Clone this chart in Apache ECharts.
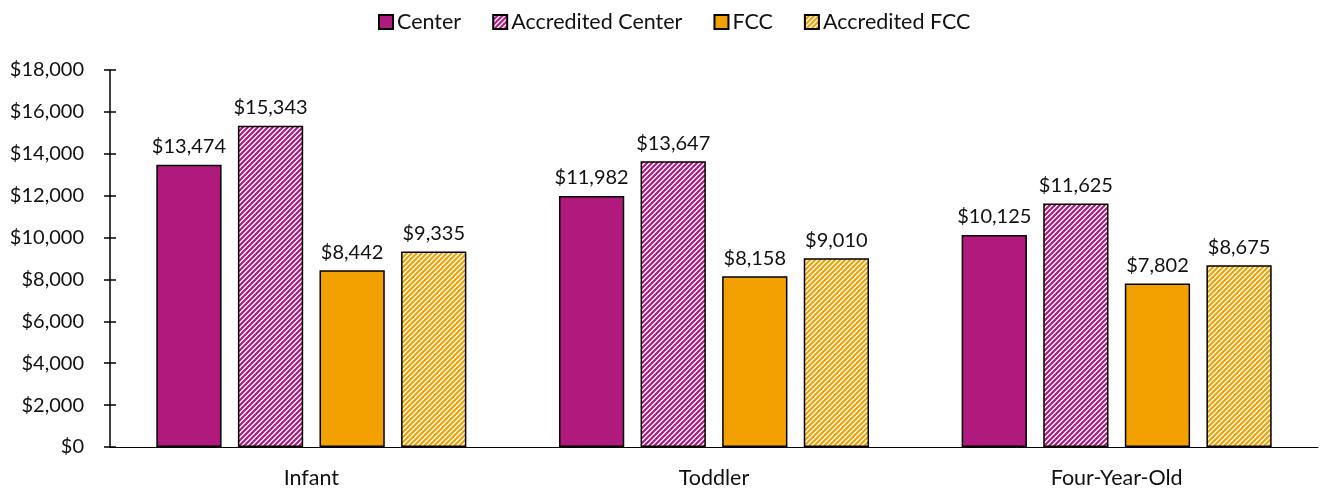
<!DOCTYPE html>
<html>
<head>
<meta charset="utf-8">
<script src="https://cdn.jsdelivr.net/npm/echarts@6/dist/echarts.min.js"></script>
<style>
  html, body { margin: 0; padding: 0; background: #fff; }
  #chart { width: 1325px; height: 493px; }
</style>
</head>
<body>
<div id="chart"></div>
<script>
var categories = ['Infant', 'Toddler', 'Four-Year-Old'];
var seriesNames = ['Center', 'Accredited Center', 'FCC', 'Accredited FCC'];
var centerValues = [13474, 11982, 10125];
var accCenterValues = [15343, 13647, 11625];
var fccValues = [8442, 8158, 7802];
var accFccValues = [9335, 9010, 8675];

var MAGENTA = '#B01A7C';
var ORANGE = '#F2A100';
var FONT = 'Lato, "Open Sans", sans-serif';

// white background with diagonal stripes
function stripes(color) {
    var size = 5;
    var c = document.createElement('canvas');
    c.width = size;
    c.height = size;
    var ctx = c.getContext('2d');
    ctx.fillStyle = '#fff';
    ctx.fillRect(0, 0, size, size);
    ctx.strokeStyle = color;
    ctx.lineWidth = 2.2;
    ctx.beginPath();
    ctx.moveTo(-1, size + 1); ctx.lineTo(size + 1, -1);
    ctx.moveTo(-1, 1); ctx.lineTo(1, -1);
    ctx.moveTo(size - 1, size + 1); ctx.lineTo(size + 1, size - 1);
    ctx.stroke();
    return {image: c, repeat: 'repeat'};
}

function money(v) {
    return '$' + Number(v).toLocaleString('en-US');
}

function makeBar(name, data, color) {
    return {
        name: name,
        type: 'bar',
        data: data,
        barGap: '25%',
        barCategoryGap: '23%',
        itemStyle: {color: color, borderColor: '#000', borderWidth: 1.5},
        label: {
            show: true,
            position: 'top',
            distance: 8,
            color: '#111',
            fontSize: 20,
            fontFamily: FONT,
            formatter: function (p) { return money(p.value); }
        }
    };
}

var option = {
    animation: false,
    legend: {
        top: 6,
        left: 373,
        icon: 'rect',
        itemWidth: 14,
        itemHeight: 14,
        itemGap: 31,
        textStyle: {fontSize: 21.5, fontFamily: FONT, color: '#111', padding: [0, 0, 0, -1]},
        data: seriesNames
    },
    grid: {left: 110, right: 7, top: 70, bottom: 46, containLabel: false},
    xAxis: {
        type: 'category',
        data: categories,
        axisLine: {lineStyle: {color: '#000', width: 1}},
        axisTick: {show: false},
        axisLabel: {margin: 20, fontSize: 21.5, fontFamily: FONT, color: '#111'}
    },
    yAxis: [
        {
            type: 'value',
            min: 0,
            max: 18000,
            interval: 2000,
            splitLine: {show: false},
            axisLine: {show: true, lineStyle: {color: '#000', width: 1.5}},
            axisTick: {show: true, length: 6, lineStyle: {color: '#000', width: 1.5}},
            axisLabel: {margin: 26, fontSize: 20, fontFamily: FONT, color: '#111', formatter: money}
        },
        {
            type: 'value',
            position: 'left',
            min: 0,
            max: 18000,
            interval: 2000,
            splitLine: {show: false},
            axisLine: {show: false},
            axisTick: {show: true, inside: true, length: 6, lineStyle: {color: '#000', width: 1.5}},
            axisLabel: {show: false}
        }
    ],
    series: [
        makeBar(seriesNames[0], centerValues, MAGENTA),
        makeBar(seriesNames[1], accCenterValues, stripes(MAGENTA)),
        makeBar(seriesNames[2], fccValues, ORANGE),
        makeBar(seriesNames[3], accFccValues, stripes(ORANGE))
    ]
};

var chart = echarts.init(document.getElementById('chart'));
chart.setOption(option);
</script>
</body>
</html>
